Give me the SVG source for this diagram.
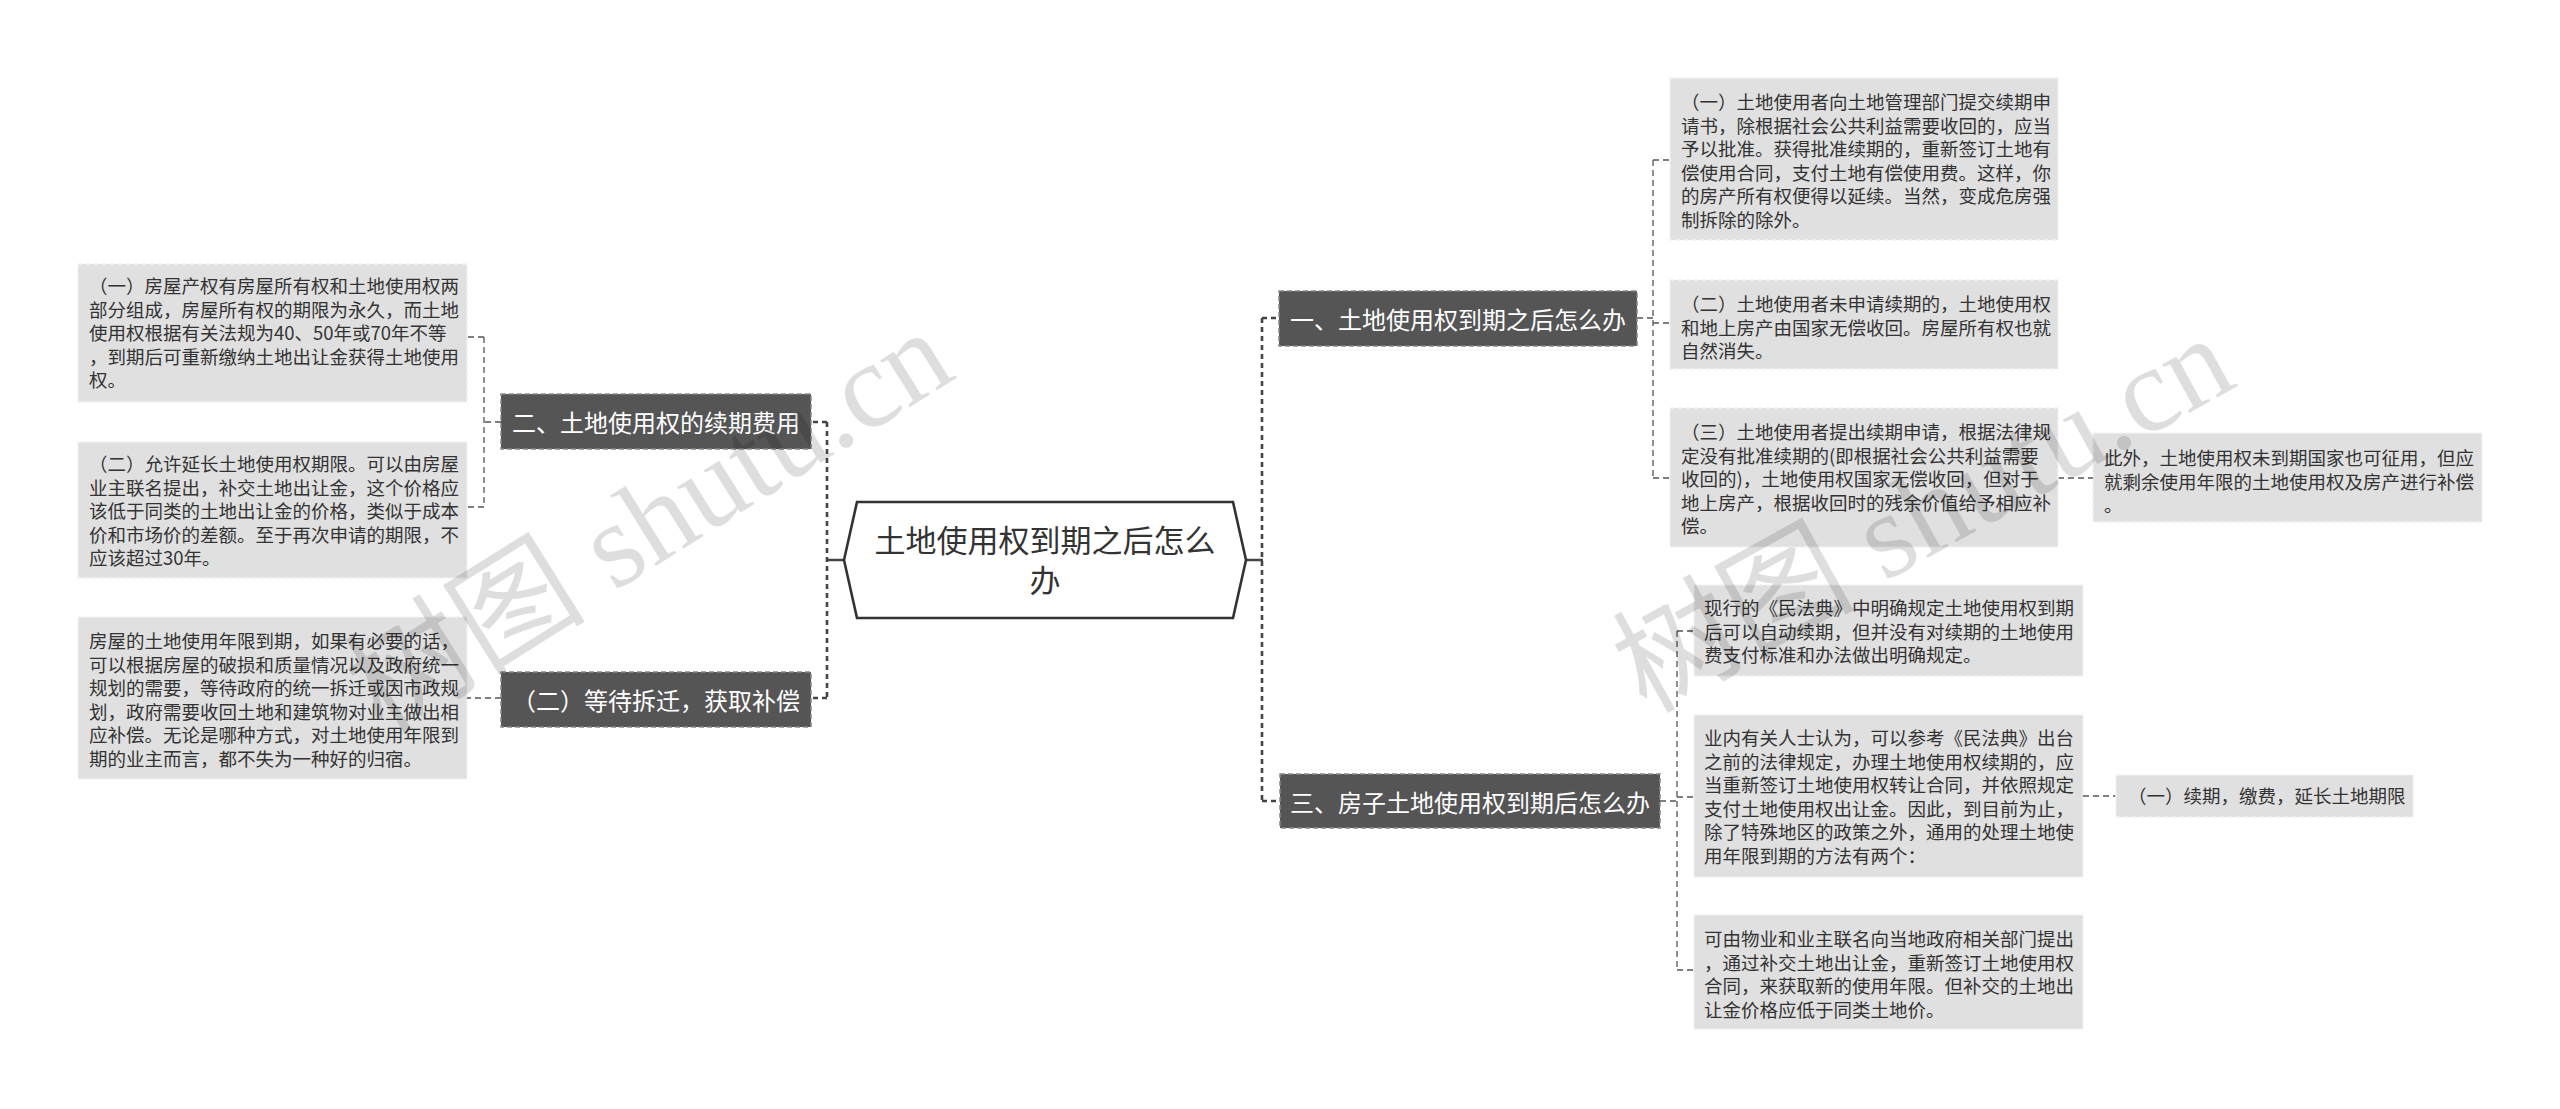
<svg xmlns="http://www.w3.org/2000/svg" width="2560" height="1109" viewBox="0 0 2560 1109">
<style>
.leaf rect{fill:#e0e0e0;stroke:#f2f2f2;stroke-width:1.5;stroke-dasharray:5 3}
.leaf text{font-family:"Noto Sans CJK SC","Noto Sans",sans-serif;font-size:18.5px;fill:#333}
.branch rect{fill:#555;stroke:#888;stroke-width:1.5;stroke-dasharray:5 3}
.branch text{font-family:"Noto Sans CJK SC","Noto Sans",sans-serif;font-size:24px;fill:#fff;text-anchor:middle;dominant-baseline:central}
.thick{fill:none;stroke:#444;stroke-width:2.6;stroke-dasharray:5 4}
.solid{fill:none;stroke:#444;stroke-width:2.6}
.thin{fill:none;stroke:#555;stroke-width:1.3;stroke-dasharray:6 4}
.wm{font-family:"Liberation Serif","Noto Sans CJK SC",serif;font-size:121px;fill:#000;fill-opacity:0.13;text-anchor:middle}
</style>
<rect width="2560" height="1109" fill="#fff"/>
<g id="connectors">
<path class="solid" d="M844,560H827M1246,560H1263"/>
<path class="thick" d="M827,422V698M827,422H811M827,698H811"/>
<path class="thick" d="M1262,318V801M1262,318H1279M1262,801H1280"/>
<path class="thin" d="M501,422H484M484,337V507M484,337H467M484,507H467"/>
<path class="thin" d="M501,698H467"/>
<path class="thin" d="M1637,318H1653M1653,160V478M1653,160H1670M1653,323H1670M1653,478H1670"/>
<path class="thin" d="M2058,478H2093"/>
<path class="thin" d="M1660,801H1677M1677,631V970M1677,631H1694M1677,797H1694M1677,970H1694"/>
<path class="thin" d="M2083,796H2116"/>
</g>
<g id="root">
<polygon points="857,502 1233,502 1246,560 1233,618 857,618 844,560" fill="#fff" stroke="#333" stroke-width="2.6"/>
<text font-family="Noto Sans CJK SC,Noto Sans,sans-serif" font-size="31" fill="#333" text-anchor="middle"><tspan x="1045" y="552">土地使用权到期之后怎么</tspan><tspan x="1045" y="592">办</tspan></text>
</g>
<g id="b2" class="branch"><rect x="501" y="394" width="310" height="55"/><text x="656" y="421.5">二、土地使用权的续期费用</text></g>
<g id="b4" class="branch"><rect x="501" y="672" width="310" height="55"/><text x="656" y="699.5">（二）等待拆迁，获取补偿</text></g>
<g id="b1" class="branch"><rect x="1279" y="291" width="358" height="55"/><text x="1458" y="318.5">一、土地使用权到期之后怎么办</text></g>
<g id="b3" class="branch"><rect x="1280" y="774" width="380" height="54"/><text x="1470" y="801">三、房子土地使用权到期后怎么办</text></g>
<g id="l1" class="leaf"><rect x="78" y="264" width="389" height="138"/><text><tspan x="89" y="293">（一）房屋产权有房屋所有权和土地使用权两</tspan><tspan x="89" y="316.6">部分组成，房屋所有权的期限为永久，而土地</tspan><tspan x="89" y="340.2">使用权根据有关法规为40、50年或70年不等</tspan><tspan x="89" y="363.8">，到期后可重新缴纳土地出让金获得土地使用</tspan><tspan x="89" y="387.4">权。</tspan></text></g>
<g id="l2" class="leaf"><rect x="78" y="442" width="389" height="136"/><text><tspan x="89" y="471">（二）允许延长土地使用权期限。可以由房屋</tspan><tspan x="89" y="494.6">业主联名提出，补交土地出让金，这个价格应</tspan><tspan x="89" y="518.2">该低于同类的土地出让金的价格，类似于成本</tspan><tspan x="89" y="541.8">价和市场价的差额。至于再次申请的期限，不</tspan><tspan x="89" y="565.4">应该超过30年。</tspan></text></g>
<g id="l3" class="leaf"><rect x="78" y="617" width="389" height="162"/><text><tspan x="89" y="648">房屋的土地使用年限到期，如果有必要的话，</tspan><tspan x="89" y="671.6">可以根据房屋的破损和质量情况以及政府统一</tspan><tspan x="89" y="695.2">规划的需要，等待政府的统一拆迁或因市政规</tspan><tspan x="89" y="718.8">划，政府需要收回土地和建筑物对业主做出相</tspan><tspan x="89" y="742.4">应补偿。无论是哪种方式，对土地使用年限到</tspan><tspan x="89" y="766">期的业主而言，都不失为一种好的归宿。</tspan></text></g>
<g id="r1" class="leaf"><rect x="1670" y="78" width="388" height="162"/><text><tspan x="1681" y="109">（一）土地使用者向土地管理部门提交续期申</tspan><tspan x="1681" y="132.6">请书，除根据社会公共利益需要收回的，应当</tspan><tspan x="1681" y="156.2">予以批准。获得批准续期的，重新签订土地有</tspan><tspan x="1681" y="179.8">偿使用合同，支付土地有偿使用费。这样，你</tspan><tspan x="1681" y="203.4">的房产所有权便得以延续。当然，变成危房强</tspan><tspan x="1681" y="227">制拆除的除外。</tspan></text></g>
<g id="r2" class="leaf"><rect x="1670" y="280" width="388" height="89"/><text><tspan x="1681" y="311">（二）土地使用者未申请续期的，土地使用权</tspan><tspan x="1681" y="334.6">和地上房产由国家无偿收回。房屋所有权也就</tspan><tspan x="1681" y="358.2">自然消失。</tspan></text></g>
<g id="r3" class="leaf"><rect x="1670" y="408" width="388" height="139"/><text><tspan x="1681" y="439">（三）土地使用者提出续期申请，根据法律规</tspan><tspan x="1681" y="462.6">定没有批准续期的(即根据社会公共利益需要</tspan><tspan x="1681" y="486.2">收回的)，土地使用权国家无偿收回，但对于</tspan><tspan x="1681" y="509.8">地上房产，根据收回时的残余价值给予相应补</tspan><tspan x="1681" y="533.4">偿。</tspan></text></g>
<g id="r3a" class="leaf"><rect x="2093" y="433" width="389" height="89"/><text><tspan x="2104" y="465">此外，土地使用权未到期国家也可征用，但应</tspan><tspan x="2104" y="488.6">就剩余使用年限的土地使用权及房产进行补偿</tspan><tspan x="2104" y="512.2">。</tspan></text></g>
<g id="t1" class="leaf"><rect x="1694" y="585" width="389" height="91"/><text><tspan x="1704" y="615">现行的《民法典》中明确规定土地使用权到期</tspan><tspan x="1704" y="638.6">后可以自动续期，但并没有对续期的土地使用</tspan><tspan x="1704" y="662.2">费支付标准和办法做出明确规定。</tspan></text></g>
<g id="t2" class="leaf"><rect x="1694" y="715" width="389" height="162"/><text><tspan x="1704" y="745">业内有关人士认为，可以参考《民法典》出台</tspan><tspan x="1704" y="768.6">之前的法律规定，办理土地使用权续期的，应</tspan><tspan x="1704" y="792.2">当重新签订土地使用权转让合同，并依照规定</tspan><tspan x="1704" y="815.8">支付土地使用权出让金。因此，到目前为止，</tspan><tspan x="1704" y="839.4">除了特殊地区的政策之外，通用的处理土地使</tspan><tspan x="1704" y="863">用年限到期的方法有两个：</tspan></text></g>
<g id="t3" class="leaf"><rect x="1694" y="915" width="389" height="114"/><text><tspan x="1704" y="946">可由物业和业主联名向当地政府相关部门提出</tspan><tspan x="1704" y="969.6">，通过补交土地出让金，重新签订土地使用权</tspan><tspan x="1704" y="993.2">合同，来获取新的使用年限。但补交的土地出</tspan><tspan x="1704" y="1016.8">让金价格应低于同类土地价。</tspan></text></g>
<g id="t2a" class="leaf"><rect x="2116" y="775" width="297" height="42"/><text x="2128" y="803">（一）续期，缴费，延长土地期限</text></g>
<g id="watermarks">
<text class="wm" x="0" y="43" transform="translate(648 520) rotate(-32)">树图 shutu.cn</text>
<text class="wm" x="0" y="43" transform="translate(1922 512) rotate(-29)">树图 shutu.cn</text>
</g>
</svg>
